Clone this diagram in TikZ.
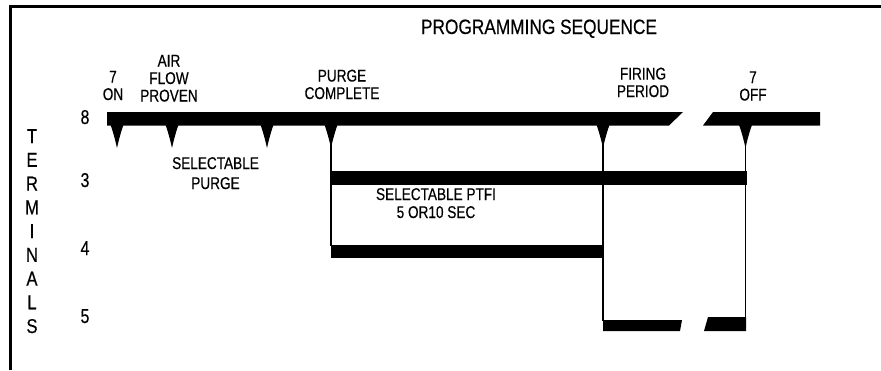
\documentclass[tikz,border=0pt]{standalone}
\usepackage{fontspec}
\setmainfont{Liberation Sans}[FakeStretch=0.8,FakeBold=0.4]
\newfontfamily\titlefont{Liberation Sans}[FakeStretch=0.83,FakeBold=0.4]
\tikzset{
  lbl/.style={inner sep=0pt, anchor=base, align=center, font=\fontsize{17}{17.5}\selectfont},
  bar/.style={fill=black},
  wire/.style={line width=1.1pt},
}
% down pointing pip under the top bar
\newcommand{\pip}[1]{\fill (#1-6.5,125) .. controls (#1-4.5,130) and (#1-2,139) .. (#1,148)
  .. controls (#1+2,139) and (#1+4.5,130) .. (#1+6.5,125) -- cycle;}
\begin{document}
\begin{tikzpicture}[x=1pt,y=-1pt]
\useasboundingbox (0,0) rectangle (881,370);

\draw[line width=3pt] (10.8,370) -- (10.8,6.5) -- (881,6.5); %frame

\node[lbl, font=\titlefont\fontsize{20.8}{22}\selectfont] (title) at (539,34) {PROGRAMMING SEQUENCE};

% terminals
\node[lbl, font=\titlefont\fontsize{20}{23.75}\selectfont] (term) at (32,333) {T\\E\\R\\M\\I\\N\\A\\L\\S};
\node[lbl, font=\fontsize{20}{20}\selectfont] (t8) at (85,124) {8};
\node[lbl, font=\fontsize{20}{20}\selectfont] (t3) at (85,187) {3};
\node[lbl, font=\fontsize{20}{20}\selectfont] (t4) at (85,255) {4};
\node[lbl, font=\fontsize{20}{20}\selectfont] (t5) at (85,323) {5};

% events
\node[lbl] (on)     at (113,100)   {7\\ON};
\node[lbl] (air)    at (169,101.5) {AIR\\FLOW\\PROVEN};
\node[lbl] (purge)  at (342,99)    {PURGE\\COMPLETE};
\node[lbl] (firing) at (643,97)    {FIRING\\PERIOD};
\node[lbl] (off)    at (753,100.5) {7\\OFF};
\node[lbl] (selp)   at (215.5,189) {SELECTABLE\\[2.5pt]PURGE};
\node[lbl] (ptfi)   at (436,218)   {SELECTABLE PTFI\\[0.5pt]5 OR10 SEC};

% terminal 8
\fill[bar] (107,112) -- (683,112) -- (669,125.5) -- (107,125.5) -- cycle;
\fill[bar] (713,112) -- (820,112) -- (820,125.5) -- (703,125.5) -- cycle;
\foreach \x in {117,172,267,331,603,745.5} {\pip{\x}}

% terminal 3
\fill[bar] (331,171) rectangle (747,185);

% terminal 4
\draw[wire] (331,140) -- (331,246);
\fill[bar] (331,245) rectangle (604,258);

% terminal 5
\draw[wire] (603,140) -- (603,321);
\draw[wire] (745.5,140) -- (745.5,318);
\fill[bar] (603,320) -- (682,320) -- (680,331) -- (603,331) -- cycle;
\fill[bar] (708,317) -- (746,317) -- (746,331) -- (704,331) -- cycle;

\end{tikzpicture}
\end{document}
